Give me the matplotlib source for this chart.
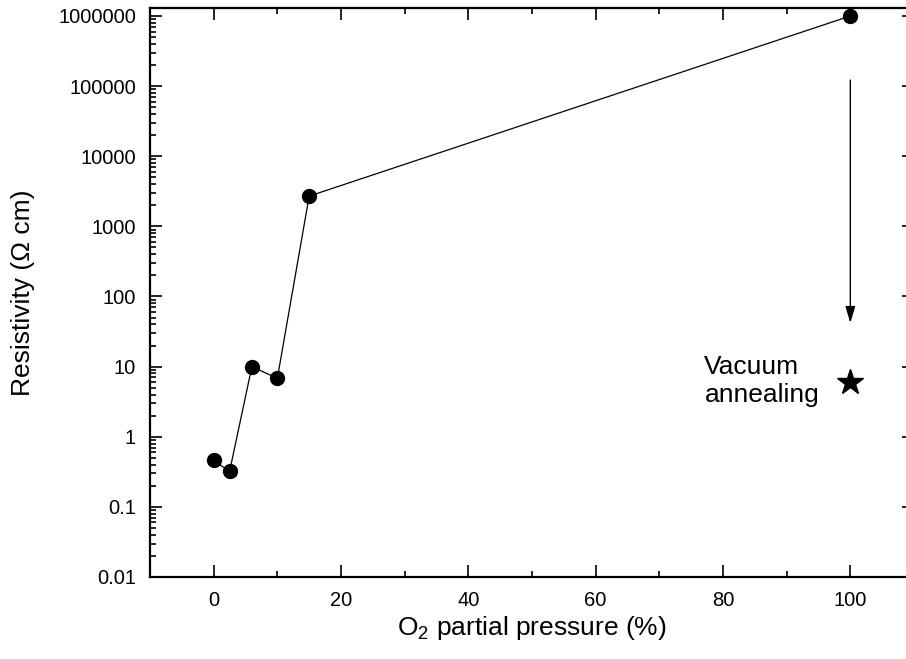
import matplotlib
matplotlib.use("Agg")
import matplotlib.pyplot as plt
from matplotlib.ticker import FixedLocator, FixedFormatter, LogLocator, NullFormatter, MultipleLocator

plt.rcParams['font.family'] = ['Liberation Sans', 'DejaVu Sans']
plt.rcParams['mathtext.fontset'] = 'custom'
plt.rcParams['mathtext.rm'] = 'Liberation Sans'
plt.rcParams['mathtext.it'] = 'Liberation Sans:italic'

# Data
pressure = [0, 2.5, 6, 10, 15, 100]
resistivity = [0.46, 0.32, 10, 6.8, 2700, 1e6]
annealed_pressure = [100]
annealed_resistivity = [6.0]
arrow_from = 1.22e5
arrow_to = 42
x_ticks = [0, 20, 40, 60, 80, 100]
x_tick_labels = ["0", "20", "40", "60", "80", "100"]
y_ticks = [0.01, 0.1, 1, 10, 100, 1000, 10000, 100000, 1000000]
y_tick_labels = ["0.01", "0.1", "1", "10", "100", "1000", "10000", "100000", "1000000"]

fig = plt.figure(figsize=(9.06, 6.59), dpi=100)
ax = fig.add_axes([150/906, (659-577)/659, 764/906, 569/659])

ax.plot(pressure, resistivity, color='black', lw=0.9, marker='o', ms=10,
        markerfacecolor='black', markeredgecolor='black')
ax.plot(annealed_pressure, annealed_resistivity, linestyle='none', marker='*',
        ms=19, color='black')

ax.annotate('', xy=(annealed_pressure[0], arrow_to), xytext=(annealed_pressure[0], arrow_from),
            arrowprops=dict(arrowstyle='-|>,head_length=1.0,head_width=0.3',
                            mutation_scale=10, color='black', lw=1,
                            shrinkA=0, shrinkB=0))

ax.text(95.1, 6.3, "Vacuum\nannealing", ha='right', va='center', multialignment='left',
        fontsize=19, linespacing=1.2)

ax.set_yscale('log')
ax.set_xlim(-10, 110)
ax.set_ylim(0.01, 1.3e6)

ax.xaxis.set_major_locator(FixedLocator(x_ticks))
ax.xaxis.set_major_formatter(FixedFormatter(x_tick_labels))
ax.xaxis.set_minor_locator(MultipleLocator(10))
ax.yaxis.set_major_locator(FixedLocator(y_ticks))
ax.yaxis.set_major_formatter(FixedFormatter(y_tick_labels))
ax.yaxis.set_minor_locator(LogLocator(base=10, subs=range(2, 10), numticks=20))
ax.yaxis.set_minor_formatter(NullFormatter())

ax.tick_params(which='both', direction='in', top=True, right=True, width=1.2, labelsize=14.5, pad=10)
ax.tick_params(which='major', length=8.5)
ax.tick_params(which='minor', length=4)
for s in ax.spines.values():
    s.set_linewidth(1.6)

ax.set_xlabel("O$_2$ partial pressure (%)", fontsize=19, labelpad=3)
ax.set_ylabel("Resistivity (\u03a9 cm)", fontsize=19, labelpad=17)

fig.savefig("out.png", dpi=100)
